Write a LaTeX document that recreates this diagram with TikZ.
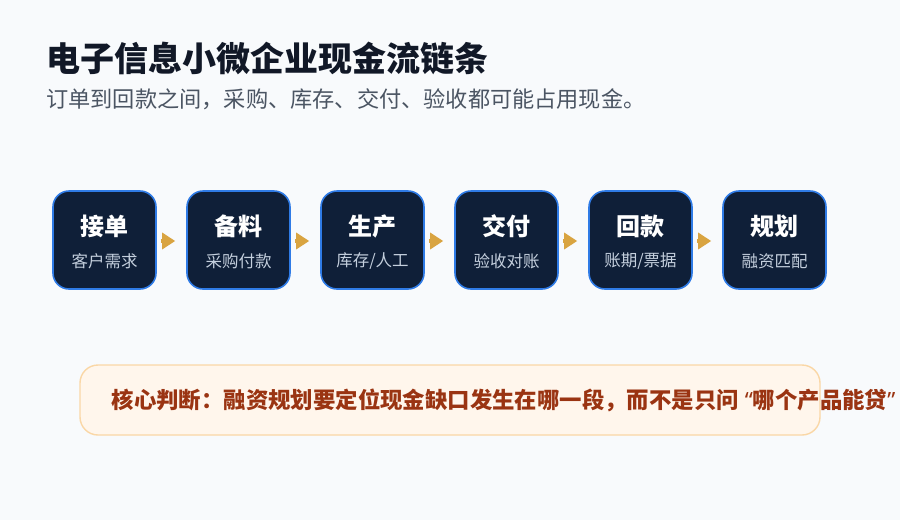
\documentclass[tikz,border=0pt]{standalone}
\usepackage{fontspec}
\setmainfont{Noto Sans CJK SC}
\newfontfamily\latinq{Noto Sans}
\usetikzlibrary{arrows.meta}
\definecolor{bg}{HTML}{F8FAFC}
\definecolor{titlec}{HTML}{111827}
\definecolor{subc}{HTML}{4B5563}
\definecolor{boxfill}{HTML}{0F1F38}
\definecolor{boxline}{HTML}{2F7BE6}
\definecolor{subtxt}{HTML}{C4CFDD}
\definecolor{gold}{HTML}{D9A441}
\definecolor{notefill}{HTML}{FFF6EC}
\definecolor{noteline}{HTML}{FAD7A6}
\definecolor{notetxt}{HTML}{9A3412}
\tikzset{
  stepbox/.style={draw=boxline, line width=1.6pt, fill=boxfill, rounded corners=16pt,
    minimum width=103pt, minimum height=98pt, inner sep=0pt},
  maintxt/.style={text=white, font=\fontsize{24}{28}\selectfont\bfseries, inner sep=0pt},
  subtext/.style={text=subtxt, font=\fontsize{16.5}{20}\selectfont, inner sep=0pt},
  flow/.style={draw=gold, line width=3.4pt, -{Triangle[length=13pt,width=16pt]}, color=gold},
}
\begin{document}
\begin{tikzpicture}[x=1pt,y=-1pt]
\useasboundingbox (0,0) rectangle (900,520);
\fill[bg] (0,0) rectangle (900,520);
\node[anchor=west, text=titlec, font=\fontsize{34}{40}\selectfont\bfseries, inner sep=0pt] (title) at (46,58) {电子信息小微企业现金流链条};
\node[anchor=west, text=subc, font=\fontsize{22.2}{27}\selectfont, inner sep=0pt] (subtitle) at (46,99) {订单到回款之间，采购、库存、交付、验收都可能占用现金。};
\node[stepbox] (b1) at (104.5,240) {};
\node[stepbox] (b2) at (238.5,240) {};
\node[stepbox] (b3) at (372.5,240) {};
\node[stepbox] (b4) at (506.5,240) {};
\node[stepbox] (b5) at (640.5,240) {};
\node[stepbox] (b6) at (774.5,240) {};
\node[maintxt] (m1) at (104.5,226.5) {接单};
\node[maintxt] (m2) at (238.5,226.5) {备料};
\node[maintxt] (m3) at (372.5,226.5) {生产};
\node[maintxt] (m4) at (506.5,226.5) {交付};
\node[maintxt] (m5) at (640.5,226.5) {回款};
\node[maintxt] (m6) at (774.5,226.5) {规划};
\node[subtext] (s1) at (104.5,261) {客户需求};
\node[subtext] (s2) at (238.5,261) {采购付款};
\node[subtext] (s3) at (372.5,261) {库存/人工};
\node[subtext] (s4) at (506.5,261) {验收对账};
\node[subtext] (s5) at (640.5,261) {账期/票据};
\node[subtext] (s6) at (774.5,261) {融资匹配};
\foreach \a/\b in {b1/b2,b2/b3,b3/b4,b4/b5,b5/b6}{
  \draw[flow] ([xshift=4pt,yshift=-1pt]\a.east) -- ([xshift=-11pt,yshift=-1pt]\b.west);
}
\node[draw=noteline, line width=1.4pt, fill=notefill, rounded corners=18pt,
  minimum width=740pt, minimum height=70pt, inner sep=0pt] (note) at (450,400) {};
\node[anchor=west, text=notetxt, font=\fontsize{22.4}{26}\selectfont\bfseries, inner sep=0pt] (notetext) at (111.5,400) {核心判断：融资规划要定位现金缺口发生在哪一段，而不是只问\hspace{6pt}{\latinq\bfseries “}哪个产品能贷{\latinq\bfseries ”}};
\end{tikzpicture}
\end{document}
